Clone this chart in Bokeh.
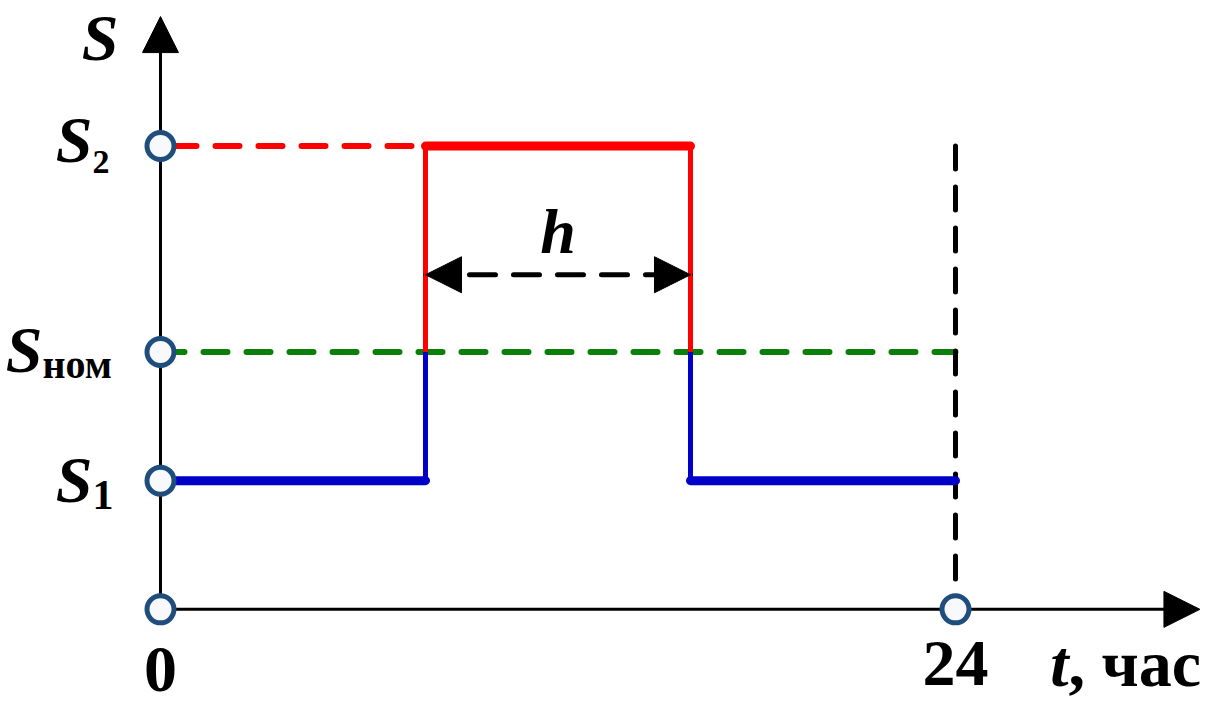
from bokeh.plotting import figure
from bokeh.models import Range1d, Arrow, NormalHead, ColumnDataSource
from bokeh.core.properties import value
from bokeh.embed import file_html
from bokeh.resources import INLINE

# ---- data ----
t_start, t_rise, t_fall, t_end = 0, 8, 16, 24          # hours
S1, S_nom, S2 = 1.0, 2.0, 3.6                          # load levels
x_tick_values = [0, 24]
x_tick_labels = ["0", "24"]
y_tick_values = [S2, S_nom, S1]
y_tick_main = ["S", "S", "S"]
y_tick_sub = ["2", "ном", "1"]
x_axis_title = ["t", ", час"]
y_axis_title = "S"
h_label = "h"

# ---- layout constants ----
x_axis_end = 31.38
y_axis_end = 4.606
h_arrow_level = 2.6

FONT = value("Liberation Serif")
RED = "#ff0000"
BLUE = "#0000c8"
GREEN = "#0a800a"
NAVY = "#1f4e7c"


def bl(offset, size):
    """pixel offset of the baseline, corrected for the renderer's baseline shift"""
    return offset - 0.35 * size


p = figure(width=1202, height=709, output_backend="svg", toolbar_location=None,
           x_range=Range1d(-4.83, 31.457), y_range=Range1d(-0.778, 4.731),
           min_border=0, x_axis_location=None, y_axis_location=None)
p.grid.visible = False
p.outline_line_color = None
p.background_fill_color = "white"

# axes with arrow heads
for xs, ys, xe, ye in [(0, 0, 0, y_axis_end), (0, 0, x_axis_end, 0)]:
    p.add_layout(Arrow(x_start=xs, y_start=ys, x_end=xe, y_end=ye,
                       line_width=3, line_color="black", level="underlay",
                       end=NormalHead(size=36, fill_color="black",
                                      line_color="black", line_width=1)))

dash = "24 19"

# nominal level (green dashed)
p.line([t_start, t_end], [S_nom, S_nom], line_color=GREEN, line_width=6,
       line_dash=dash, line_cap="round")
# S2 dashed reference before peak
p.line([t_start, t_rise], [S2, S2], line_color=RED, line_width=6,
       line_dash=dash, line_cap="round", line_dash_offset=-12)
# vertical dashed at end of day
p.line([t_end, t_end], [S2, 0], line_color="black", line_width=5,
       line_dash="23 18", line_cap="round")

# step load profile
for tx in (t_rise, t_fall):
    p.line([tx, tx], [S1, S_nom], line_color=BLUE, line_width=5)
    p.line([tx, tx], [S_nom, S2], line_color=RED, line_width=5)
p.line([t_rise, t_fall], [S2, S2], line_color=RED, line_width=9, line_cap="round")
p.line([t_start, t_rise], [S1, S1], line_color=BLUE, line_width=9, line_cap="round")
p.line([t_fall, t_end], [S1, S1], line_color=BLUE, line_width=9, line_cap="round")

# h double arrow
p.add_layout(Arrow(x_start=t_rise, y_start=h_arrow_level, x_end=t_fall, y_end=h_arrow_level,
                   line_width=5, line_color="black", line_dash="26 18", line_cap="round",
                   start=NormalHead(size=36, fill_color="black", line_color="black", line_width=1),
                   end=NormalHead(size=36, fill_color="black", line_color="black", line_width=1)))
p.text(x=[(t_rise + t_fall) / 2], y=[h_arrow_level], text=[h_label], text_font=FONT,
       text_font_style="bold italic", text_font_size="64px", text_align="center",
       text_baseline="alphabetic", y_offset=bl(-21, 64), text_color="black")

# tick circles
cx = [0] * len(y_tick_values) + x_tick_values
cy = y_tick_values + [0] * len(x_tick_values)
p.scatter(cx, cy, marker="circle", size=27, line_width=5, line_color=NAVY,
          fill_color="#f7f9fc")

# y tick labels
sub_sizes = [34, 40, 42]
ysrc = ColumnDataSource(dict(
    x=[0, 0, 0], y=y_tick_values, main=y_tick_main, sub=y_tick_sub,
    xo=[-68, -118, -68],
    yo_main=[bl(17, 66), bl(21, 66), bl(22, 66)],
    yo_sub=[bl(28, sub_sizes[0]), bl(27, sub_sizes[1]), bl(29, sub_sizes[2])],
    fs=[f"{s}px" for s in sub_sizes]))
p.text(x="x", y="y", text="main", source=ysrc, x_offset="xo", y_offset="yo_main",
       text_font=FONT, text_font_style="bold italic", text_font_size="66px",
       text_align="right", text_baseline="alphabetic", text_color="black")
p.text(x="x", y="y", text="sub", source=ysrc, x_offset="xo", y_offset="yo_sub",
       text_font=FONT, text_font_style="bold", text_font_size="fs",
       text_align="left", text_baseline="alphabetic", text_color="black")

# y axis title
p.text(x=[0], y=[y_axis_end], text=[y_axis_title], x_offset=-42, y_offset=bl(44, 66),
       text_font=FONT, text_font_style="bold italic", text_font_size="66px",
       text_align="right", text_baseline="alphabetic", text_color="black")

# x tick labels
p.text(x=x_tick_values, y=[0, 0], text=x_tick_labels, y_offset=[bl(83, 66), bl(77, 66)],
       text_font=FONT, text_font_style="bold", text_font_size="66px",
       text_align="center", text_baseline="alphabetic", text_color="black")

# x axis title
p.text(x=[t_end], y=[0], text=[x_axis_title[0]], x_offset=113, y_offset=bl(77, 66),
       text_font=FONT, text_font_style="bold italic", text_font_size="66px",
       text_align="right", text_baseline="alphabetic", text_color="black")
p.text(x=[t_end], y=[0], text=[x_axis_title[1]], x_offset=113, y_offset=bl(77, 66),
       text_font=FONT, text_font_style="bold", text_font_size="66px",
       text_align="left", text_baseline="alphabetic", text_color="black")

open("out.html", "w").write(file_html(p, INLINE))
